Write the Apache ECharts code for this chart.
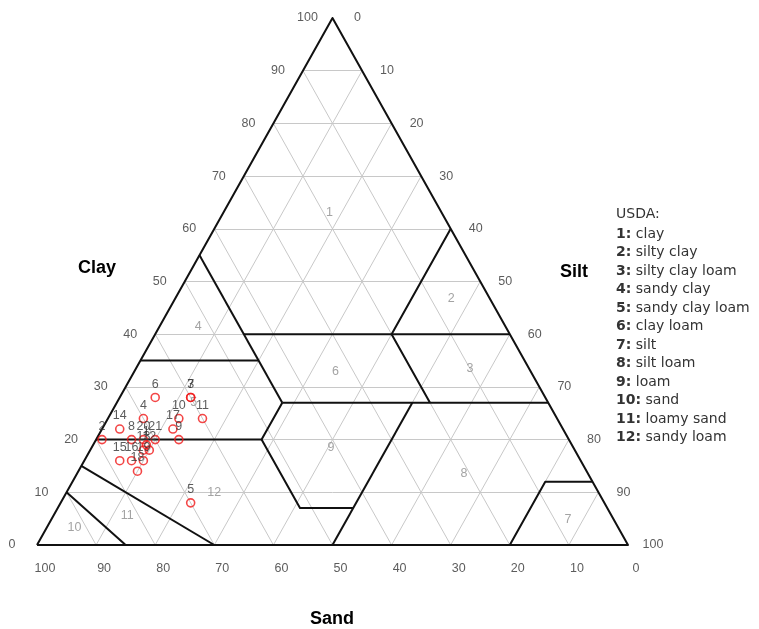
<!DOCTYPE html>
<html>
<head>
<meta charset="utf-8">
<title>USDA soil texture triangle</title>
<script src="https://cdn.jsdelivr.net/npm/echarts@6/dist/echarts.min.js"></script>
<style>
  html, body { margin: 0; padding: 0; background: #ffffff; }
  #chart { width: 759px; height: 629px; }
</style>
</head>
<body>
<div id="chart"></div>
<script>
// ---- sample compositions (percent) ----
const sampleIds  = ['1','2','3','4','5','6','7','8','9','10','11','12','13','14','15','16','17','18','19','20','21'];
const sampleSand = [72, 79, 60, 70, 70, 66, 60, 74, 66, 64, 60, 72, 73, 75, 78, 76, 66, 76, 74, 72, 70];
const sampleSilt = [ 9,  1, 12,  6, 22,  6, 12,  6, 14, 12, 16, 10,  9,  3,  6,  8, 12, 10, 10,  8, 10];
const sampleClay = [19, 20, 28, 24,  8, 28, 28, 20, 20, 24, 24, 18, 18, 22, 16, 16, 22, 14, 16, 20, 20];

// ---- USDA texture classes ----
const classNames = ['clay', 'silty clay', 'silty clay loam', 'sandy clay', 'sandy clay loam', 'clay loam',
                    'silt', 'silt loam', 'loam', 'sand', 'loamy sand', 'sandy loam'];
// anchor of each class number inside its polygon (sand, silt, clay)
const classLabelSand = [19, 6.5, 10, 52, 60, 33, 7.7, 21, 41, 92, 82, 65];
const classLabelSilt = [18, 46.7, 56.5, 6.6, 13, 34, 87.4, 65.5, 40.5, 4.7, 12.5, 25];
const classLabelClay = [63, 46.8, 33.5, 41.4, 27, 33, 4.9, 13.5, 18.5, 3.3, 5.5, 10];

// class boundaries, each a polyline of [sand, silt, clay] vertices
const classBoundaries = [
  [[0, 40, 60], [20, 40, 40], [20, 53, 27]],          // silt 40 / sand 20
  [[45, 15, 40], [0, 60, 40]],                        // clay 40
  [[45, 0, 55], [45, 28, 27]],                        // sand 45
  [[65, 0, 35], [45, 20, 35]],                        // clay 35
  [[45, 28, 27], [0, 73, 27]],                        // clay 27
  [[80, 0, 20], [52, 28, 20], [45, 28, 27]],          // clay 20 / silt 28
  [[52, 28, 20], [52, 41, 7], [43, 50, 7]],           // sand 52 / clay 7
  [[23, 50, 27], [50, 50, 0]],                        // silt 50
  [[20, 80, 0], [8, 80, 12], [0, 88, 12]],            // silt
  [[85, 15, 0], [90, 0, 10]],                         // sand
  [[70, 30, 0], [85, 0, 15]]                          // loamy sand
];

// axis tick values
const tickValues = [0, 10, 20, 30, 40, 50, 60, 70, 80, 90, 100];
const gridSteps = [10, 20, 30, 40, 50, 60, 70, 80, 90];

// ---- ternary -> cartesian (x: silt + clay/2, y: clay) ----
function toXY(sand, silt, clay) {
  return [silt + clay / 2, clay];
}

const FONT = 'Liberation Sans, Arial, sans-serif';
const LEGEND_FONT = 'DejaVu Sans, sans-serif';

// gray reference grid
const gridSegs = [];
gridSteps.forEach(k => {
  gridSegs.push({ coords: [toXY(100 - k, 0, k), toXY(0, 100 - k, k)] });      // constant clay
  gridSegs.push({ coords: [toXY(100 - k, k, 0), toXY(0, k, 100 - k)] });      // constant silt
  gridSegs.push({ coords: [toXY(k, 100 - k, 0), toXY(k, 0, 100 - k)] });      // constant sand
});

// triangle outline + class boundaries
const blackSegs = [{ coords: [toXY(100, 0, 0), toXY(0, 100, 0), toXY(0, 0, 100), toXY(100, 0, 0)] }];
classBoundaries.forEach(b => blackSegs.push({ coords: b.map(p => toXY(p[0], p[1], p[2])) }));

// tick labels along each side
const clayTicks = tickValues.map(v => ({ value: toXY(100 - v, 0, v), name: String(v) }));
const siltTicks = tickValues.map(v => ({ value: toXY(0, v, 100 - v), name: String(v) }));
const sandTicks = tickValues.map(v => ({ value: toXY(v, 100 - v, 0), name: String(v) }));

const classLabels = classNames.map((n, i) => ({
  value: toXY(classLabelSand[i], classLabelSilt[i], classLabelClay[i]),
  name: String(i + 1)
}));

const samples = sampleIds.map((id, i) => ({
  value: toXY(sampleSand[i], sampleSilt[i], sampleClay[i]),
  name: id
}));

function tickSeries(data, offset) {
  return {
    type: 'scatter', data: data, symbolSize: 0, silent: true, z: 5,
    label: {
      show: true, position: 'inside', offset: offset,
      formatter: p => p.name, color: '#333', fontSize: 12.5, fontFamily: FONT
    }
  };
}

// legend lines
const legendTexts = [{ text: 'USDA:', top: 207 }];
classNames.forEach((n, i) => legendTexts.push({ text: '{b|' + (i + 1) + ':} ' + n, top: 227 + i * 18.5 }));

const chart = echarts.init(document.getElementById('chart'), null, { renderer: 'canvas' });
chart.setOption({
  animation: false,
  backgroundColor: '#ffffff',
  grid: { left: 37, right: 131, top: 18, bottom: 84 },
  xAxis: { type: 'value', min: 0, max: 100, show: false },
  yAxis: { type: 'value', min: 0, max: 100, show: false },
  series: [
    {
      type: 'lines', coordinateSystem: 'cartesian2d', polyline: false, silent: true, z: 1,
      lineStyle: { color: '#c8c8c8', width: 1, opacity: 1 },
      data: gridSegs
    },
    {
      type: 'lines', coordinateSystem: 'cartesian2d', polyline: true, silent: true, z: 2,
      lineStyle: { color: '#111', width: 2, opacity: 1, join: 'round' },
      data: blackSegs
    },
    {
      type: 'scatter', data: classLabels, symbolSize: 0, silent: true, z: 3,
      label: {
        show: true, position: 'inside', formatter: p => p.name,
        color: '#8c8c8c', fontSize: 12.5, fontFamily: FONT
      }
    },
    tickSeries(clayTicks, [-25, 0]),
    tickSeries(siltTicks, [25, 0]),
    tickSeries(sandTicks, [8, 24]),
    {
      type: 'scatter', data: samples, symbol: 'circle', symbolSize: 8, silent: true, z: 6,
      itemStyle: { color: 'rgba(0,0,0,0)', borderColor: '#f01818', borderWidth: 1.6 },
      label: {
        show: true, position: 'top', distance: 2, formatter: p => p.name,
        color: '#333', fontSize: 12.5, fontFamily: FONT
      }
    }
  ],
  graphic: [
    { type: 'text', left: 78, top: 259, style: { text: 'Clay', font: 'bold 18px ' + FONT, fill: '#000' } },
    { type: 'text', left: 560, top: 263, style: { text: 'Silt', font: 'bold 18px ' + FONT, fill: '#000' } },
    { type: 'text', left: 310, top: 610, style: { text: 'Sand', font: 'bold 18px ' + FONT, fill: '#000' } }
  ].concat(legendTexts.map(t => ({
    type: 'text', left: 616, top: t.top,
    style: {
      text: t.text, fontSize: 14, fontFamily: LEGEND_FONT, fill: '#333',
      rich: { b: { fontSize: 14, fontWeight: 'bold', fontFamily: LEGEND_FONT, fill: '#333' } }
    }
  })))
});
</script>
</body>
</html>
